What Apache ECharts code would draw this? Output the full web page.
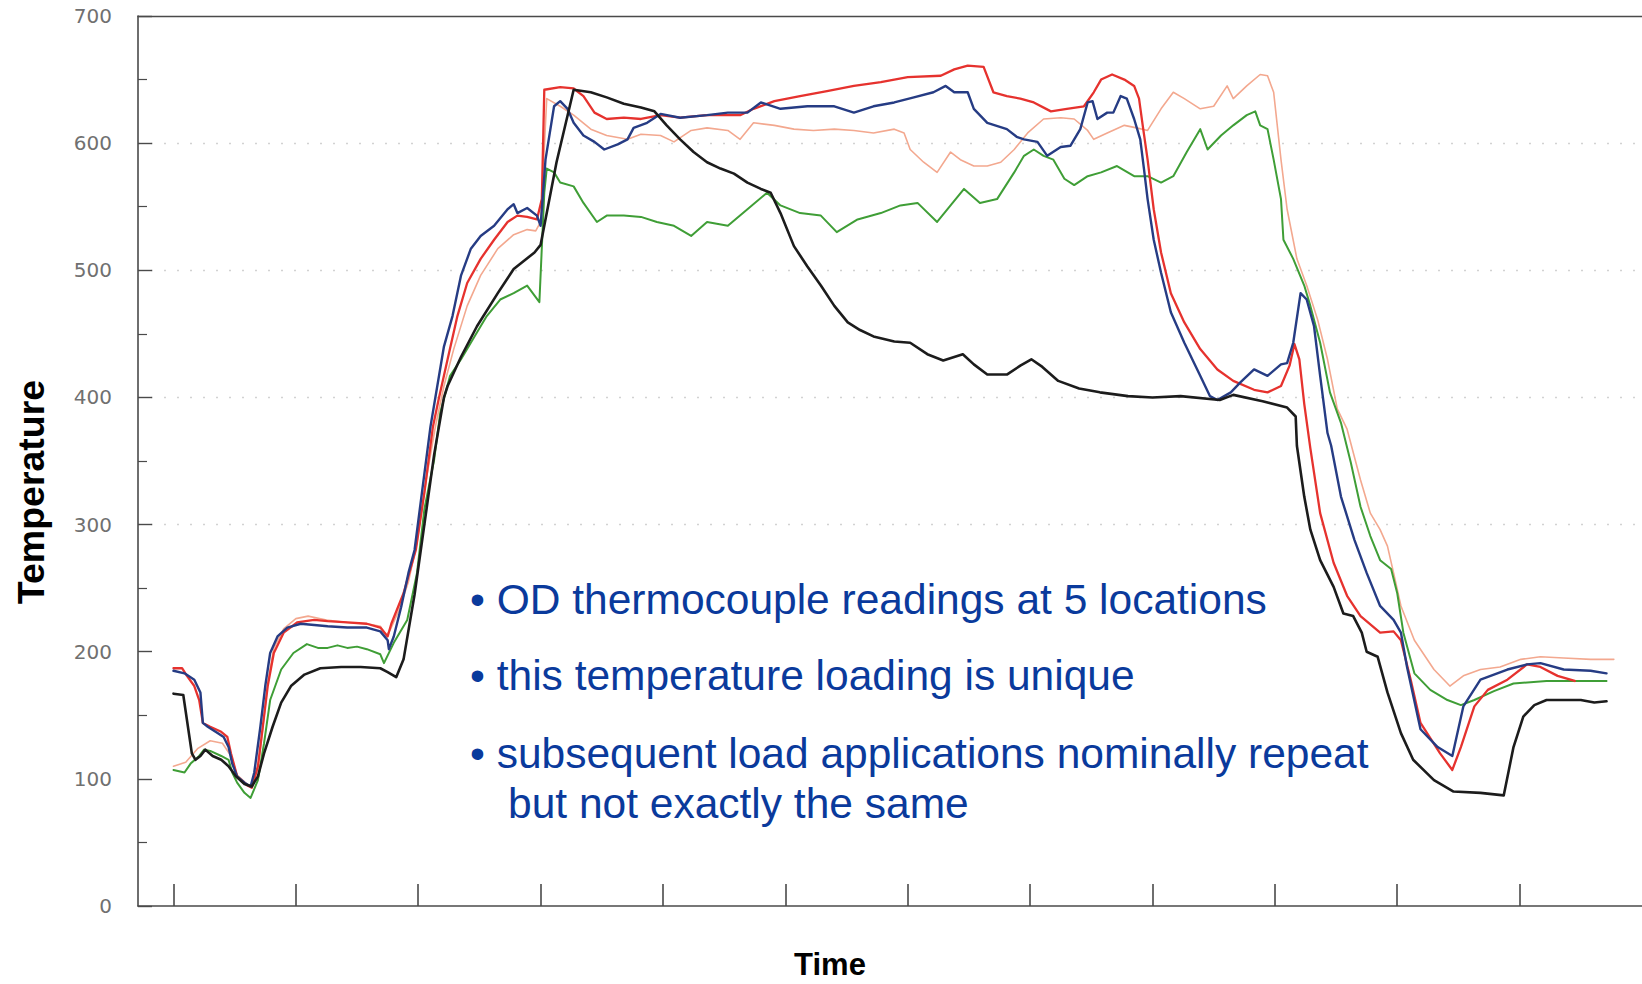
<!DOCTYPE html>
<html>
<head>
<meta charset="utf-8">
<title>OD thermocouple readings</title>
<script src="https://cdn.jsdelivr.net/npm/echarts@6/dist/echarts.min.js"></script>
<style>
  html, body { margin: 0; padding: 0; background: #ffffff; }
  #chart { width: 1642px; height: 984px; }
</style>
</head>
<body>
<div id="chart"></div>
<script>
// Time positions of the bottom-axis ticks (one unit per tick)
const timeTicks = [0, 1, 2, 3, 4, 5, 6, 7, 8, 9, 10, 11];
// Temperature tick labels
const tempTicks = [0, 100, 200, 300, 400, 500, 600, 700];

// Thermocouple traces: [time, temperature]
const tcBlack = [
  [0.00,167],[0.08,166],[0.15,120],[0.18,115],[0.22,118],[0.26,123],[0.32,118],[0.39,115],[0.45,110],[0.51,102],
  [0.58,96],[0.64,94],[0.69,102],[0.74,120],[0.81,141],[0.88,160],[0.96,173],[1.07,182],[1.20,187],[1.37,188],
  [1.53,188],[1.69,187],[1.75,184],[1.82,180],[1.88,194],[1.97,245],[2.05,300],[2.13,355],[2.21,400],[2.24,409],
  [2.35,432],[2.48,456],[2.65,482],[2.78,501],[2.95,514],[3.00,520],[3.13,585],[3.27,642],[3.41,640],[3.54,636],
  [3.68,631],[3.82,628],[3.93,625],[4.03,614],[4.14,603],[4.25,593],[4.36,585],[4.47,580],[4.58,576],[4.69,569],
  [4.80,564],[4.88,561],[4.96,545],[5.07,519],[5.18,503],[5.29,488],[5.40,472],[5.51,459],[5.61,453],[5.72,448],
  [5.89,444],[6.02,443],[6.16,434],[6.29,429],[6.45,434],[6.54,426],[6.65,418],[6.81,418],[6.92,425],[7.01,430],
  [7.10,424],[7.23,413],[7.40,407],[7.57,404],[7.80,401],[8.00,400],[8.23,401],[8.55,398],[8.66,402],[8.90,397],
  [9.10,392],[9.17,385],[9.18,362],[9.24,322],[9.29,296],[9.37,272],[9.48,251],[9.56,230],[9.64,228],[9.71,215],
  [9.75,200],[9.84,196],[9.92,168],[10.03,136],[10.13,115],[10.30,99],[10.46,90],[10.68,89],[10.87,87],[10.95,125],
  [11.03,149],[11.12,158],[11.22,162],[11.50,162],[11.61,160],[11.71,161]
];

const tcBlue = [
  [0.00,185],[0.09,183],[0.17,178],[0.22,168],[0.24,144],[0.28,141],[0.36,136],[0.41,133],[0.45,125],[0.48,112],
  [0.52,102],[0.58,97],[0.63,94],[0.66,105],[0.71,141],[0.75,173],[0.79,199],[0.85,212],[0.93,219],[1.04,222],
  [1.15,221],[1.26,220],[1.42,219],[1.58,219],[1.69,216],[1.75,209],[1.76,202],[1.80,212],[1.86,235],[1.92,262],
  [1.97,280],[2.03,325],[2.10,377],[2.14,400],[2.21,440],[2.28,464],[2.35,496],[2.43,517],[2.51,527],[2.62,535],
  [2.73,548],[2.78,552],[2.81,545],[2.89,549],[2.97,543],[3.00,535],[3.04,587],[3.11,629],[3.16,633],[3.22,627],
  [3.27,616],[3.35,606],[3.44,601],[3.52,595],[3.63,599],[3.71,603],[3.76,612],[3.87,616],[3.98,623],[4.14,620],
  [4.36,622],[4.53,624],[4.69,624],[4.80,632],[4.96,627],[5.18,629],[5.40,629],[5.56,624],[5.72,629],[5.89,632],
  [6.05,636],[6.21,640],[6.31,645],[6.38,640],[6.49,640],[6.54,627],[6.65,616],[6.81,611],[6.89,605],[6.95,603],
  [7.06,601],[7.14,590],[7.25,597],[7.33,598],[7.41,611],[7.47,632],[7.51,633],[7.55,619],[7.63,624],[7.68,624],
  [7.74,637],[7.79,635],[7.85,619],[7.90,603],[7.93,580],[7.96,556],[8.01,524],[8.07,498],[8.15,467],[8.26,443],
  [8.39,417],[8.47,401],[8.53,398],[8.64,404],[8.72,412],[8.83,422],[8.94,417],[9.05,426],[9.10,427],[9.15,443],
  [9.21,482],[9.26,477],[9.32,456],[9.37,417],[9.43,372],[9.46,362],[9.54,322],[9.65,288],[9.75,262],[9.86,236],
  [9.97,225],[10.03,215],[10.08,188],[10.19,139],[10.33,125],[10.45,118],[10.54,157],[10.68,178],[10.90,186],
  [11.06,190],[11.17,191],[11.36,186],[11.58,185],[11.71,183]
];

const tcRed = [
  [0.00,187],[0.07,187],[0.11,181],[0.17,173],[0.21,162],[0.24,144],[0.30,141],[0.39,137],[0.44,133],[0.47,120],
  [0.52,102],[0.60,95],[0.64,93],[0.69,110],[0.73,141],[0.77,173],[0.82,199],[0.90,215],[1.01,223],[1.15,225],
  [1.26,224],[1.42,223],[1.58,222],[1.69,219],[1.75,212],[1.78,222],[1.88,246],[1.98,280],[2.05,325],[2.12,377],
  [2.17,400],[2.24,430],[2.32,464],[2.40,490],[2.51,509],[2.62,524],[2.73,538],[2.81,543],[2.89,542],[2.97,540],
  [3.01,556],[3.03,642],[3.16,644],[3.27,643],[3.35,637],[3.44,624],[3.54,619],[3.68,620],[3.82,619],[3.98,622],
  [4.14,620],[4.36,622],[4.63,622],[4.74,627],[4.91,633],[5.12,637],[5.34,641],[5.56,645],[5.78,648],[6.00,652],
  [6.27,653],[6.38,658],[6.49,661],[6.62,660],[6.70,640],[6.81,637],[6.92,635],[7.03,632],[7.17,625],[7.30,627],
  [7.44,629],[7.52,640],[7.58,650],[7.67,654],[7.77,650],[7.85,645],[7.89,635],[7.92,614],[7.96,587],[8.01,548],
  [8.07,514],[8.15,482],[8.26,459],[8.39,438],[8.53,422],[8.66,413],[8.83,406],[8.94,404],[9.05,409],[9.12,425],
  [9.16,442],[9.20,430],[9.24,395],[9.29,360],[9.37,309],[9.48,270],[9.59,244],[9.70,228],[9.86,215],[9.97,216],
  [10.03,209],[10.11,178],[10.19,144],[10.35,120],[10.45,107],[10.52,125],[10.63,157],[10.74,170],[10.90,178],
  [11.06,190],[11.17,188],[11.31,181],[11.45,177]
];

const tcGreen = [
  [0.00,107],[0.09,105],[0.14,112],[0.21,118],[0.25,123],[0.30,122],[0.39,118],[0.45,115],[0.48,105],[0.52,97],
  [0.58,89],[0.63,85],[0.69,99],[0.74,128],[0.79,162],[0.88,186],[0.98,199],[1.09,206],[1.18,203],[1.26,203],
  [1.34,205],[1.42,203],[1.50,204],[1.58,202],[1.69,198],[1.72,191],[1.80,207],[1.91,225],[1.99,262],[2.05,312],
  [2.13,351],[2.18,388],[2.26,417],[2.35,430],[2.46,448],[2.56,464],[2.67,477],[2.78,482],[2.89,488],[2.99,475],
  [3.03,561],[3.05,580],[3.11,577],[3.16,569],[3.27,566],[3.35,553],[3.46,538],[3.54,543],[3.68,543],[3.82,542],
  [3.95,538],[4.09,535],[4.23,527],[4.36,538],[4.53,535],[4.69,548],[4.85,561],[4.96,551],[5.12,545],[5.29,543],
  [5.42,530],[5.59,540],[5.78,545],[5.94,551],[6.08,553],[6.24,538],[6.35,551],[6.46,564],[6.59,553],[6.73,556],
  [6.87,577],[6.95,590],[7.03,595],[7.11,590],[7.19,587],[7.28,572],[7.36,567],[7.47,574],[7.58,577],[7.71,582],
  [7.85,574],[7.96,574],[8.07,569],[8.17,574],[8.28,593],[8.39,611],[8.45,595],[8.56,606],[8.66,614],[8.77,622],
  [8.84,625],[8.88,614],[8.94,611],[8.99,587],[9.05,556],[9.07,524],[9.15,509],[9.24,488],[9.29,472],[9.37,443],
  [9.45,404],[9.54,380],[9.62,349],[9.70,314],[9.78,291],[9.86,272],[9.95,265],[10.00,246],[10.05,215],[10.14,183],
  [10.27,170],[10.41,162],[10.52,158],[10.63,162],[10.79,169],[10.95,175],[11.22,177],[11.50,177],[11.71,177]
];

const tcSalmon = [
  [0.00,110],[0.10,113],[0.20,124],[0.30,130],[0.40,128],[0.47,118],[0.52,103],[0.60,96],[0.64,94],[0.69,108],
  [0.73,140],[0.77,175],[0.82,203],[0.90,218],[1.00,226],[1.10,228],[1.25,225],[1.42,223],[1.58,222],[1.69,220],
  [1.74,213],[1.77,217],[1.84,232],[1.92,255],[1.99,286],[2.07,338],[2.14,377],[2.21,409],[2.29,438],[2.40,472],
  [2.51,496],[2.65,517],[2.78,528],[2.89,532],[2.96,531],[3.00,538],[3.05,635],[3.16,629],[3.27,622],[3.41,611],
  [3.54,606],[3.71,603],[3.82,607],[3.98,606],[4.09,601],[4.23,610],[4.36,612],[4.53,610],[4.63,603],[4.74,616],
  [4.91,614],[5.07,611],[5.23,610],[5.40,611],[5.56,610],[5.72,608],[5.89,611],[5.97,608],[6.02,595],[6.13,585],
  [6.24,577],[6.35,593],[6.43,587],[6.54,582],[6.65,582],[6.76,585],[6.87,595],[6.98,608],[7.11,619],[7.25,620],
  [7.36,619],[7.47,610],[7.52,603],[7.63,608],[7.77,614],[7.87,612],[7.96,610],[8.07,627],[8.17,640],[8.26,635],
  [8.39,627],[8.50,629],[8.61,645],[8.66,635],[8.77,645],[8.88,654],[8.94,653],[8.99,640],[9.05,587],[9.10,548],
  [9.18,509],[9.26,488],[9.35,461],[9.43,430],[9.51,391],[9.59,375],[9.70,335],[9.78,309],[9.86,296],[9.92,283],
  [9.97,262],[10.03,236],[10.14,209],[10.30,186],[10.43,173],[10.54,181],[10.68,186],[10.84,188],[11.01,194],
  [11.17,196],[11.36,195],[11.58,194],[11.77,194]
];

// Annotation lines
const notes = [
  '\u2022 OD thermocouple readings at 5 locations',
  '\u2022 this temperature loading is unique',
  '\u2022 subsequent load applications nominally repeat',
  'but not exactly the same'
];

const chart = echarts.init(document.getElementById('chart'), null, { renderer: 'svg' });

const axisColor = '#4a4a4a';
const clear = 'rgba(0,0,0,0)';
const dotted = '#d2d2d2';
const noteFont = '42.5px "Liberation Sans", Arial, sans-serif';
const noteColor = '#0a3a9c';

function traceSeries(name, data, color, width, z) {
  return {
    name: name,
    type: 'line',
    data: data,
    showSymbol: false,
    symbol: 'none',
    smooth: false,
    z: z,
    lineStyle: { color: color, width: width, join: 'round', cap: 'round' },
    emphasis: { disabled: true }
  };
}

function noteText(text, x, y) {
  return {
    type: 'text', x: x, y: y, z: 10,
    style: { text: text, fill: noteColor, font: noteFont, align: 'left', verticalAlign: 'middle' }
  };
}

chart.setOption({
  animation: false,
  backgroundColor: '#ffffff',
  grid: { left: 138, right: 0, top: 16, bottom: 78, containLabel: false },
  xAxis: [
    {
      type: 'value',
      min: -0.29,
      max: 12.0,
      position: 'bottom',
      axisLine: { show: true, onZero: false, lineStyle: { color: axisColor, width: 1.6 } },
      axisTick: {
        show: true,
        inside: true,
        length: 22,
        customValues: timeTicks,
        lineStyle: { color: axisColor, width: 1.6 }
      },
      axisLabel: { show: false },
      splitLine: { show: false }
    },
    {
      type: 'value',
      min: -0.29,
      max: 12.0,
      position: 'top',
      axisLine: { show: true, onZero: false, lineStyle: { color: axisColor, width: 1.4 } },
      axisTick: { show: false },
      axisLabel: { show: false },
      splitLine: { show: false }
    }
  ],
  yAxis: {
    type: 'value',
    min: tempTicks[0],
    max: tempTicks[tempTicks.length - 1],
    interval: 100,
    axisLine: { show: true, onZero: false, lineStyle: { color: axisColor, width: 1.6 } },
    axisTick: { show: true, inside: true, length: 14, lineStyle: { color: axisColor, width: 1.4 } },
    minorTick: { show: true, splitNumber: 2, length: 9, lineStyle: { color: axisColor, width: 1.2 } },
    axisLabel: {
      margin: 26,
      color: '#707070',
      fontFamily: 'DejaVu Sans',
      fontSize: 20,
      formatter: function (v) { return tempTicks.indexOf(v) >= 0 ? String(v) : ''; }
    },
    splitLine: {
      show: true,
      lineStyle: {
        color: [clear, clear, clear, dotted, dotted, dotted, dotted, clear],
        width: 1.4,
        type: [2, 11]
      }
    }
  },
  series: [
    traceSeries('TC5', tcSalmon, '#f3a88f', 1.6, 2),
    traceSeries('TC4', tcGreen, '#3f9e36', 2.0, 3),
    traceSeries('TC3', tcRed, '#e6322e', 2.3, 4),
    traceSeries('TC2', tcBlue, '#263c84', 2.4, 5),
    traceSeries('TC1', tcBlack, '#1c1c1c', 2.6, 6)
  ],
  graphic: [
    {
      type: 'text',
      x: 31, y: 492,
      rotation: Math.PI / 2,
      style: {
        text: 'Temperature',
        fill: '#000000',
        font: 'bold 37.5px "Liberation Sans", Arial, sans-serif',
        align: 'center',
        verticalAlign: 'middle'
      }
    },
    {
      type: 'text',
      x: 830, y: 964,
      style: {
        text: 'Time',
        fill: '#000000',
        font: 'bold 31px "Liberation Sans", Arial, sans-serif',
        align: 'center',
        verticalAlign: 'middle'
      }
    },
    noteText(notes[0], 470, 599),
    noteText(notes[1], 470, 675),
    noteText(notes[2], 470, 753),
    noteText(notes[3], 508, 803)
  ]
});
</script>
</body>
</html>
